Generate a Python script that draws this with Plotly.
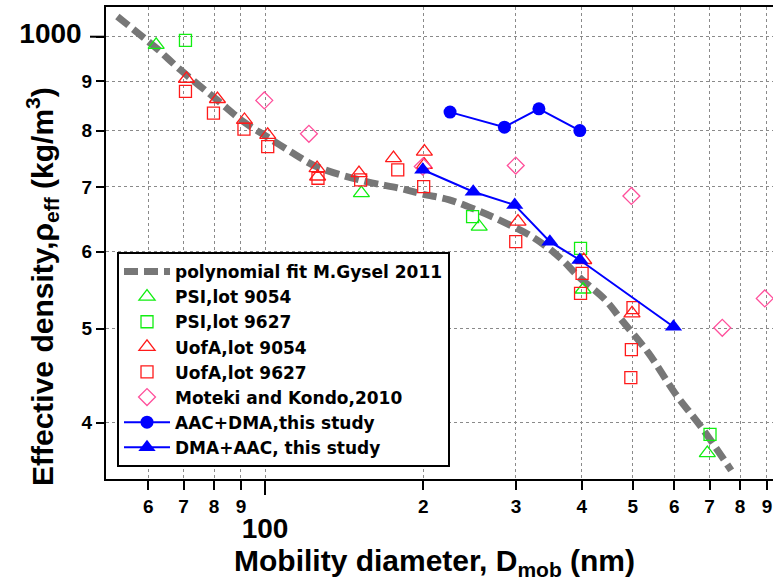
import plotly.graph_objects as go

# ---------------- data ----------------
fit_x = [52.4, 62.1, 69.0, 81.0, 90.9, 100.7, 113.1, 125.3, 155.8, 180.2, 199.5, 224.1,
         251.8, 278.6, 321.8, 362.1, 395.0, 443.8, 476.4, 536.1, 602.3, 675.3, 769.7]
fit_y = [1049, 973.5, 924.6, 860.9, 817.6, 788.9, 758.3, 734.5, 708.8, 697.8, 688.0, 678.7,
         662.8, 647.2, 621.9, 592.9, 565.4, 535.1, 510.2, 471.6, 428.6, 395.6, 357.0]

psi9054_x = [62.1, 152.5, 255.4, 402.5, 693.3]
psi9054_y = [981, 689.6, 636.8, 548.6, 372.0]

psi9627_x = [70.6, 248.1, 398.0, 701.5]
psi9627_y = [991.3, 652.1, 604.9, 388.9]

uofa9054_x = [70.9, 81.2, 91.4, 101.2, 125.6, 125.9, 150.9, 175.5, 200.9, 200.9, 302.7, 403.6, 498.6]
uofa9054_y = [905.0, 862.5, 820.6, 792.0, 731.8, 717.5, 723.2, 749.4, 761.3, 737.6, 644.5, 588.4, 518.4]

uofa9627_x = [70.6, 79.8, 91.2, 101.2, 126.1, 152.0, 178.8, 200.3, 299.7, 400.7, 398.0, 500.7, 497.2, 496.0]
uofa9627_y = [878.3, 834.0, 802.8, 770.2, 714.5, 711.6, 729.0, 700.5, 614.6, 570.0, 543.5, 525.5, 475.7, 445.0]

moteki_x = [99.7, 121.2, 199.5, 299.7, 497.2, 740.2, 891.6]
moteki_y = [859.6, 794.1, 734.5, 736.4, 685.1, 500.9, 537.1]

aac_x = [224.8, 285.2, 331.7, 396.8]
aac_y = [836.0, 806.7, 842.6, 800.1]

dma_x = [199.5, 248.8, 298.4, 348.0, 396.8, 597.8]
dma_y = [729.0, 692.0, 670.5, 614.6, 588.4, 502.1]

x_tick_vals = [60, 70, 80, 90, 100, 200, 300, 400, 500, 600, 700, 800, 900]
x_tick_labels = ["6", "7", "8", "9", "100", "2", "3", "4", "5", "6", "7", "8", "9"]
y_tick_vals = [400, 500, 600, 700, 800, 900, 1000]
y_tick_labels = ["4", "5", "6", "7", "8", "9", "1000"]

series_names = ["polynomial fit M.Gysel 2011", "PSI,lot 9054", "PSI,lot 9627", "UofA,lot 9054",
                "UofA,lot 9627", "Moteki and Kondo,2010", "AAC+DMA,this study", "DMA+AAC, this study"]

# ---------------- styling ----------------
FONT = "Liberation Sans"
LEGEND_FONT = "DejaVu Sans"
GREEN = "#11ee11"
RED = "#ff1a1a"
PINK = "#ff4f9b"
BLUE = "#0000ff"
GRAY = "#777777"


def bold(s):
    return "<b>" + s + "</b>"


def xtick(s):
    if s == "100":
        return "<br><span style='font-size:28px'><b>100</b></span>"
    return bold(s)


def ytick(s):
    if s == "1000":
        return "<span style='font-size:28px'><b>" + s + "</b></span>\u00a0\u00a0"
    return bold(s)


XR = [2 - 159 / 526, 2 + 508 / 526]
YR = [3 - 442.3 / 969.5, 3 + 29.7 / 969.5]

fig = go.Figure()

fig.add_trace(go.Scatter(x=fit_x, y=fit_y, mode="lines", name=bold(series_names[0]),
                         line=dict(color=GRAY, width=7, dash="14px,6px", shape="spline")))
fig.add_trace(go.Scatter(x=psi9054_x, y=psi9054_y, mode="markers", name=bold(series_names[1]),
                         marker=dict(symbol="triangle-up-open", size=14, color=GREEN, line=dict(width=1.3))))
fig.add_trace(go.Scatter(x=psi9627_x, y=psi9627_y, mode="markers", name=bold(series_names[2]),
                         marker=dict(symbol="square-open", size=12, color=GREEN, line=dict(width=1.3))))
fig.add_trace(go.Scatter(x=uofa9054_x, y=uofa9054_y, mode="markers", name=bold(series_names[3]),
                         marker=dict(symbol="triangle-up-open", size=14, color=RED, line=dict(width=1.3))))
fig.add_trace(go.Scatter(x=uofa9627_x, y=uofa9627_y, mode="markers", name=bold(series_names[4]),
                         marker=dict(symbol="square-open", size=12, color=RED, line=dict(width=1.3))))
fig.add_trace(go.Scatter(x=moteki_x, y=moteki_y, mode="markers", name=bold(series_names[5]),
                         marker=dict(symbol="diamond-open", size=13, color=PINK, line=dict(width=1.3))))
fig.add_trace(go.Scatter(x=aac_x, y=aac_y, mode="lines+markers", name=bold(series_names[6]),
                         line=dict(color=BLUE, width=2),
                         marker=dict(symbol="circle", size=13, color=BLUE)))
fig.add_trace(go.Scatter(x=dma_x, y=dma_y, mode="lines+markers", name=bold(series_names[7]),
                         line=dict(color=BLUE, width=2),
                         marker=dict(symbol="triangle-up", size=15, color=BLUE)))

axis_common = dict(type="log", ticks="outside", tickwidth=2, tickcolor="black",
                   showgrid=True, gridcolor="#8a8a8a", griddash="dot", gridwidth=1,
                   zeroline=False, showline=True, linewidth=2, linecolor="black",
                   tickangle=0, tickmode="array")

fig.update_layout(
    width=773, height=580,
    margin=dict(l=106, r=0, t=7, b=101),
    plot_bgcolor="white", paper_bgcolor="white",
    font=dict(family=FONT, color="black"),
    xaxis=dict(**axis_common, range=XR, tickvals=x_tick_vals,
               ticktext=[xtick(s) for s in x_tick_labels],
               ticklen=9, mirror=True,
               tickfont=dict(family=FONT, size=19, color="black")),
    yaxis=dict(**axis_common, range=YR, tickvals=y_tick_vals,
               ticktext=[ytick(s) for s in y_tick_labels],
               ticklen=8, mirror=False,
               tickfont=dict(family=FONT, size=19, color="black")),
    legend=dict(x=0.0165, y=0.4809, xanchor="left", yanchor="top",
                bordercolor="black", borderwidth=2, bgcolor="white",
                itemwidth=46,
                font=dict(family=LEGEND_FONT, size=17, color="black")),
    shapes=[
        dict(type="line", xref="x", yref="paper", x0=100, x1=100, y0=0, y1=-16 / 472,
             line=dict(color="black", width=2)),
        dict(type="line", xref="paper", yref="y", x0=0, x1=-16 / 667, y0=1000, y1=1000,
             line=dict(color="black", width=2)),
    ],
    annotations=[
        dict(text="<b>Effective density,ρ<sub>eff</sub> (kg/m<sup>3</sup>)</b>", textangle=-90,
             xref="paper", yref="paper", x=(42 - 106) / 667, y=1 - (287 - 7) / 472,
             xanchor="center", yanchor="middle", showarrow=False,
             font=dict(family=FONT, size=30, color="black")),
        dict(text="<b>Mobility diameter, D<sub>mob</sub> (nm)</b>",
             xref="paper", yref="paper", x=(434 - 106) / 667, y=1 - (562 - 7) / 472,
             xanchor="center", yanchor="middle", showarrow=False,
             font=dict(family=FONT, size=30, color="black")),
    ],
)

fig.write_html("out.html", config={"displayModeBar": False},
               post_script="document.body.style.margin='0';document.body.style.padding='0';")
